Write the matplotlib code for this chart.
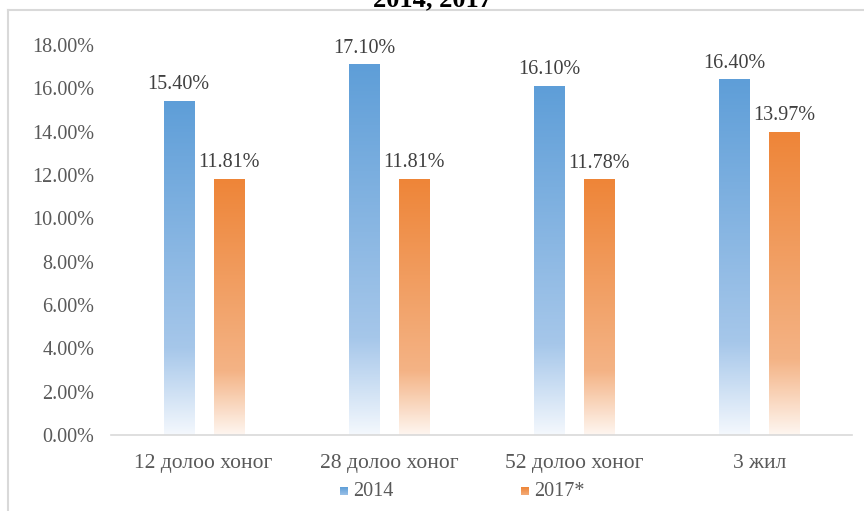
import numpy as np
import matplotlib.pyplot as plt
from matplotlib.colors import LinearSegmentedColormap
from matplotlib.lines import Line2D

plt.rcParams['font.family'] = ['Liberation Serif', 'DejaVu Serif']

categories = ['12 долоо хоног', '28 долоо хоног', '52 долоо хоног', '3 жил']
series_names = ['2014', '2017*']
values_2014 = [0.154, 0.171, 0.161, 0.164]
values_2017 = [0.1181, 0.1181, 0.1178, 0.1397]
yticks = [0.0, 0.02, 0.04, 0.06, 0.08, 0.10, 0.12, 0.14, 0.16, 0.18]

# gradient stops: bottom (almost white) -> light -> full colour at top
blue_cmap = LinearSegmentedColormap.from_list(
    'blue_grad', [(0, '#F4F8FD'), (0.26, '#A6C7EA'), (1, '#5E9ED8')])
orange_cmap = LinearSegmentedColormap.from_list(
    'orange_grad', [(0, '#FEF6F0'), (0.25, '#F4B385'), (1, '#EE8538')])

fig = plt.figure(figsize=(8.64, 5.11), dpi=100)
ax = fig.add_axes([111 / 864, 1 - 435 / 511, (852 - 111) / 864, (435 - 45) / 511])

x = np.arange(len(categories))
width = 0.162
offset = 0.135
grad = np.linspace(0, 1, 256).reshape(-1, 1)

for vals, cmap, dx in [(values_2014, blue_cmap, -offset), (values_2017, orange_cmap, offset)]:
    bars = ax.bar(x + dx, vals, width, color='none', edgecolor='none')
    for b, v in zip(bars, vals):
        x0 = b.get_x()
        ax.imshow(grad, cmap=cmap, origin='lower', aspect='auto',
                  extent=[x0, x0 + b.get_width(), 0, b.get_height()], zorder=2)
        ax.text(b.get_x() + b.get_width() / 2, v + 0.0032, f'{v * 100:.2f}%',
                ha='center', va='bottom', fontsize=14.5, color='#404040')

ax.set_xlim(-0.5, len(categories) - 0.5)
ax.set_ylim(0, 0.18)
ax.set_yticks(yticks)
ax.set_yticklabels([f'{t * 100:.2f}%' for t in yticks])
ax.set_xticks(x)
ax.set_xticklabels(categories)
ax.tick_params(axis='y', length=0, pad=12, labelsize=14.5, labelcolor='#595959')
ax.tick_params(axis='x', length=0, pad=14, labelsize=15.5, labelcolor='#595959')
for s in ['top', 'right', 'left']:
    ax.spines[s].set_visible(False)
ax.spines['bottom'].set_color('#D9D9D9')
ax.spines['bottom'].set_linewidth(1.2)
ax.spines['bottom'].set_zorder(3)

# chart border (top and left visible)
fig.add_artist(Line2D([8 / 864, 1], [1 - 10 / 511, 1 - 10 / 511], color='#D9D9D9', lw=1.5))
fig.add_artist(Line2D([8 / 864, 8 / 864], [0, 1 - 10 / 511], color='#D9D9D9', lw=1.5))

# title (cut off at the top in the original)
fig.text(432 / 864, 1 - 6 / 511, '2014, 2017', ha='center', va='baseline',
         fontsize=19, fontweight='bold', color='black')

# legend
leg_y = 1 - 491 / 511
for name, cmap, lx in [(series_names[0], blue_cmap, 340), (series_names[1], orange_cmap, 521)]:
    lax = fig.add_axes([lx / 864, leg_y - 4 / 511, 8 / 864, 8 / 511])
    lax.imshow(grad, cmap=cmap, origin='lower', aspect='auto', vmin=-0.6, vmax=1.0)
    lax.axis('off')
    fig.text((lx + 13) / 864, leg_y, name, ha='left', va='center',
             fontsize=14.5, color='#595959')

fig.savefig('out.png', dpi=100)
